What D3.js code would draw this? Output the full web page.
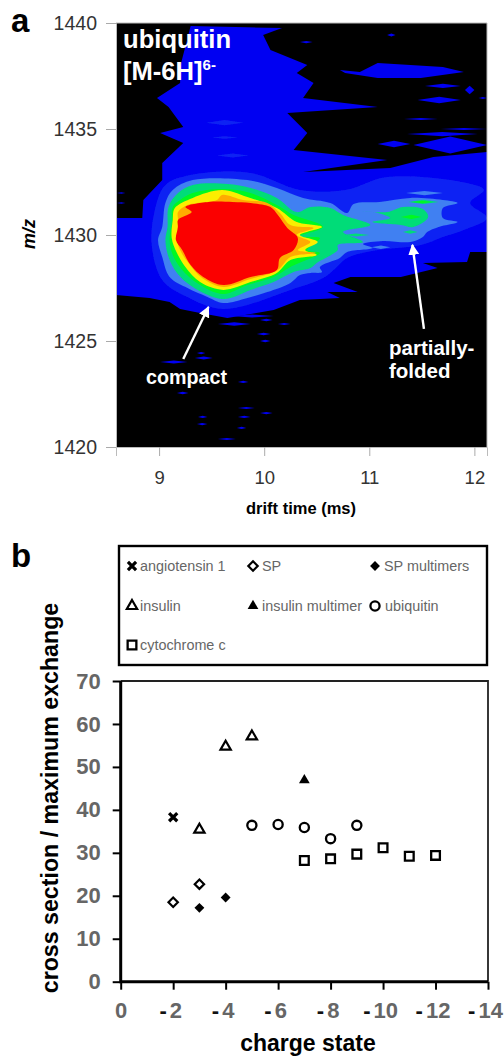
<!DOCTYPE html>
<html><head><meta charset="utf-8">
<script src="https://cdn.jsdelivr.net/npm/d3@7"></script>
<style>html,body{margin:0;padding:0;background:#fff}svg{display:block}text{font-family:"Liberation Sans",Arial,sans-serif}</style>
</head><body><svg id="c" width="504" height="1056"></svg>
<script>
// ---------- panel a: contour bands, [drift time (ms), m/z]
const mzTicks=[1440,1435,1430,1425,1420];
const driftTicks=[9,10,11,12];
const blueBand=[[9.30,1439.86],[10.17,1439.76],[9.99,1439.43],[10.06,1438.73],[10.41,1438.02],[10.31,1437.64],[10.47,1437.17],[10.37,1436.46],[11.08,1436.04],[10.22,1435.75],[10.41,1434.81],[10.28,1434.01],[11.17,1433.54],[10.37,1432.97],[11.20,1433.16],[11.61,1433.68],[12.12,1433.92],[12.12,1429.20],[11.96,1429.20],[11.93,1428.73],[11.51,1428.68],[11.65,1428.44],[11.30,1428.02],[10.82,1428.02],[10.66,1427.74],[10.89,1427.31],[10.60,1427.31],[10.72,1427.03],[10.34,1426.93],[10.09,1426.46],[9.65,1426.08],[9.39,1426.32],[9.20,1426.51],[9.10,1426.84],[8.91,1427.03],[8.59,1427.17],[8.59,1430.80],[8.84,1430.80],[8.85,1431.65],[9.03,1432.59],[9.03,1433.40],[9.23,1434.34],[9.01,1434.81],[9.23,1435.09],[9.09,1436.04],[8.98,1436.46],[9.20,1437.17],[9.20,1437.92]];
const blueIsland=[[10.72,1437.78],[10.91,1437.69],[11.08,1438.11],[11.70,1437.92],[11.90,1437.69],[11.49,1437.41],[11.08,1437.41],[10.77,1437.64]];
const midBand=[[11.17,1432.74],[11.93,1432.45],[12.09,1432.12],[11.96,1431.51],[12.12,1430.80],[11.90,1430.24],[11.70,1429.91],[11.49,1429.53],[11.08,1429.29],[10.79,1428.92],[10.66,1428.35],[10.56,1427.97],[10.25,1427.41],[9.61,1426.51],[9.25,1427.12],[9.03,1427.88],[8.93,1429.53],[8.96,1431.18],[9.06,1432.36],[9.30,1432.83],[9.87,1432.92],[10.34,1432.12],[10.77,1432.12]];
const skyBand=[[9.32,1432.59],[9.84,1432.59],[10.12,1432.22],[10.37,1431.75],[10.63,1431.51],[10.79,1431.04],[10.85,1431.46],[11.10,1431.56],[11.39,1431.75],[11.70,1431.65],[11.84,1431.51],[11.70,1431.27],[11.70,1430.80],[11.84,1430.61],[11.66,1430.38],[11.55,1430.14],[11.51,1429.91],[11.39,1429.67],[11.13,1429.72],[10.94,1429.58],[11.03,1429.39],[10.79,1429.20],[10.72,1428.92],[10.53,1428.49],[10.55,1428.25],[10.44,1428.21],[10.34,1428.11],[10.25,1427.74],[10.03,1427.31],[9.84,1427.03],[9.61,1426.79],[9.46,1427.08],[9.27,1427.50],[9.10,1428.02],[9.03,1428.96],[8.99,1429.76],[9.03,1430.38],[9.06,1431.51],[9.13,1432.12]];
const tealBand=[[9.32,1432.36],[9.65,1432.41],[9.87,1432.22],[10.12,1431.75],[10.31,1431.08],[10.44,1431.32],[10.63,1431.27],[10.75,1430.94],[11.01,1430.47],[10.75,1430.14],[10.94,1429.67],[10.70,1429.53],[10.70,1429.29],[10.50,1428.68],[10.44,1428.44],[10.28,1428.25],[10.09,1427.78],[9.87,1427.41],[9.61,1426.98],[9.32,1427.55],[9.17,1428.21],[9.09,1428.96],[9.06,1429.76],[9.08,1430.38],[9.09,1431.32],[9.18,1431.98]];
const tealIsland=[[10.93,1431.13],[11.17,1431.08],[11.32,1431.32],[11.51,1431.23],[11.56,1430.85],[11.42,1430.38],[11.30,1430.47],[11.03,1430.61],[11.20,1430.80],[11.08,1431.04]];
const greenBand=[[9.32,1431.98],[9.61,1432.17],[9.87,1431.98],[10.12,1431.42],[10.28,1430.94],[10.56,1430.38],[10.31,1429.91],[10.53,1429.86],[10.41,1429.29],[10.53,1429.15],[10.25,1428.49],[10.09,1428.02],[9.84,1427.64],[9.61,1427.22],[9.36,1427.74],[9.22,1428.35],[9.13,1429.06],[9.10,1429.76],[9.12,1430.57],[9.13,1431.32],[9.20,1431.65]];
const yellowBand=[[9.15,1431.27],[9.32,1431.75],[9.60,1432.12],[9.84,1431.79],[10.12,1431.27],[10.31,1430.61],[10.55,1430.38],[10.34,1430.00],[10.51,1429.67],[10.39,1429.29],[10.50,1429.06],[10.25,1428.82],[10.12,1428.21],[9.87,1427.78],[9.61,1427.41],[9.39,1427.78],[9.25,1428.49],[9.17,1429.15],[9.12,1429.86],[9.13,1430.71]];
const orangeBand=[[9.18,1431.08],[9.27,1431.42],[9.36,1431.51],[9.55,1431.65],[9.60,1431.89],[9.80,1431.65],[10.03,1431.51],[10.15,1431.04],[10.25,1430.47],[10.47,1430.33],[10.31,1430.00],[10.44,1429.67],[10.32,1429.29],[10.49,1429.15],[10.25,1428.96],[10.13,1428.35],[9.87,1427.92],[9.61,1427.55],[9.41,1427.97],[9.28,1428.68],[9.20,1429.29],[9.17,1429.86],[9.18,1430.71]];
const redBand=[[9.18,1430.71],[9.31,1431.08],[9.25,1431.32],[9.47,1431.56],[9.70,1431.56],[9.87,1431.51],[10.06,1431.32],[10.13,1430.94],[10.22,1430.33],[10.32,1429.86],[10.28,1429.29],[10.15,1428.92],[10.12,1428.35],[9.87,1428.02],[9.61,1427.64],[9.42,1428.02],[9.30,1428.58],[9.22,1429.29],[9.16,1429.76],[9.18,1430.38]];
// streaks: [start time, end time, m/z, half width in m/z]
const blueStreaks=[[11.53,11.87,1437.03,.1],[11.91,12.0,1436.84,.2],[11.46,11.87,1436.37,.15],[12.04,12.12,1436.46,.05],[11.33,11.65,1435.47,.05],[11.68,12.12,1435.0,.05],[11.36,12.03,1434.76,.1],[11.08,11.39,1434.29,.15],[11.42,12.12,1434.25,.4],[9.01,9.27,1424.01,.07],[9.34,9.51,1424.2,.07],[9.36,9.44,1424.43,.05],[9.56,9.87,1425.8,.08],[9.96,10.08,1425.99,.06],[9.68,10.09,1426.18,.07],[9.93,10.06,1425.33,.06],[9.96,10.06,1425.0,.06],[10.13,10.25,1425.8,.05],[9.75,9.85,1423.07,.05],[9.17,9.28,1422.55,.06],[9.75,9.91,1421.84,.05],[9.96,10.08,1421.6,.05],[9.37,9.46,1421.42,.05],[9.75,9.87,1421.42,.05],[9.36,9.46,1421.08,.05],[9.74,9.83,1420.9,.05],[9.56,9.73,1420.38,.05],[8.60,8.68,1431.98,.04],[8.60,8.68,1431.51,.04],[10.34,10.46,1439.1,.05],[11.17,11.25,1439.43,.07],[8.75,8.87,1427.45,.12]];
const midStreaks=[[9.45,9.8,1435.3,.12],[9.5,9.75,1434.6,.06],[9.55,9.85,1433.75,.1]];
const skyStreaks=[[11.35,11.70,1431.98,.1],[11.02,11.2,1429.42,.08]];
const tealStreaks=[[11.37,11.66,1431.56,.1],[11.32,11.46,1430.14,.08],[10.75,11.0,1430.0,.07]];
const greenStreaks=[[11.4,11.6,1431.56,.06],[11.3,11.5,1430.85,.1]];
const bandColors={blue:"#0202f2",mid:"#0f22f3",sky:"#3f80f2",teal:"#00dc78",green:"#00f820",yellow:"#fbee00",orange:"#ffab00",red:"#fb0000"};
const arrows=[[[9.23,1424.15],[9.47,1426.6]],[[11.52,1425.57],[11.41,1429.53]]];

// ---------- panel b
const chargeTicks=[0,-2,-4,-6,-8,-10,-12,-14];
const ratioTicks=[0,10,20,30,40,50,60,70];
const angiotensinCharge=[-2],angiotensinValue=[38.3];
const spCharge=[-2,-3],spValue=[18.5,22.7];
const spMultCharge=[-3,-4],spMultValue=[17.2,19.6];
const insulinCharge=[-3,-4,-5],insulinValue=[35.4,54.7,57.1];
const insMultCharge=[-7],insMultValue=[46.9];
const ubiquitinCharge=[-5,-6,-7,-8,-9],ubiquitinValue=[36.4,36.6,35.9,33.3,36.4];
const cytoCharge=[-7,-8,-9,-10,-11,-12],cytoValue=[28.2,28.6,29.7,31.2,29.2,29.4];
const seriesNames=["angiotensin 1","SP","SP multimers","insulin","insulin multimer","ubiquitin","cytochrome c"];

const svg=d3.select("#c");
const xA=d3.scaleLinear().domain([8.59,12.12]).range([116,487]);
const yA=d3.scaleLinear().domain([1420,1440]).range([447,23]);
const path=d3.line().x(d=>xA(d[0])).y(d=>yA(d[1])).curve(d3.curveLinearClosed);
const smooth=d3.line().x(d=>xA(d[0])).y(d=>yA(d[1])).curve(d3.curveCatmullRomClosed.alpha(0.5));
const defs=svg.append("defs");
defs.append("filter").attr("id","soft").append("feGaussianBlur").attr("stdDeviation",0.55);
defs.append("clipPath").attr("id","heatClip").append("rect").attr("x",116).attr("y",23).attr("width",371).attr("height",424);
defs.append("marker").attr("id","ah").attr("viewBox","0 0 10 10").attr("refX",9).attr("refY",5).attr("markerUnits","userSpaceOnUse").attr("markerWidth",11).attr("markerHeight",11).attr("orient","auto").append("path").attr("d","M0,0L10,5L0,10Z").attr("fill","#fff");

svg.append("rect").attr("x",xA(8.59)).attr("y",yA(1440)).attr("width",xA(12.12)-xA(8.59)).attr("height",yA(1420)-yA(1440)).attr("fill","#000");
const heat=svg.append("g").attr("clip-path","url(#heatClip)").append("g").attr("filter","url(#soft)");
const poly=(d,c)=>heat.append("path").attr("d",path(d)).attr("fill",c);
const round=(d,c)=>heat.append("path").attr("d",smooth(d)).attr("fill",c);
const streak=(list,c)=>list.forEach(s=>poly([[s[0],s[2]],[(s[0]+s[1])/2,s[2]+s[3]],[s[1],s[2]],[(s[0]+s[1])/2,s[2]-s[3]]],c));
poly(blueBand,bandColors.blue);poly(blueIsland,bandColors.blue);streak(blueStreaks,bandColors.blue);
round(midBand,bandColors.mid);streak(midStreaks,bandColors.mid);
round(skyBand,bandColors.sky);streak(skyStreaks,bandColors.sky);
round(tealBand,bandColors.teal);round(tealIsland,bandColors.teal);streak(tealStreaks,bandColors.teal);
streak(greenStreaks,bandColors.green);
round(greenBand,bandColors.green);round(yellowBand,bandColors.yellow);round(orangeBand,bandColors.orange);round(redBand,bandColors.red);

const axA=svg.append("g").attr("transform","translate(116,0)").call(d3.axisLeft(yA).tickValues(mzTicks).tickSize(10).tickPadding(9).tickFormat(d3.format("d")));
axA.select(".domain").attr("stroke","#bbb");
axA.selectAll(".tick line").attr("stroke","#aaa");
axA.selectAll("text").attr("font-size",19.5).attr("fill","#333").attr("font-family","Liberation Sans");
const axB=svg.append("g").attr("transform","translate(0,447)").call(d3.axisBottom(xA).tickValues(driftTicks).tickSize(9).tickPadding(15).tickFormat(d3.format("d")));
axB.select(".domain").attr("stroke","#bbb");
axB.selectAll(".tick line").attr("stroke","#aaa");
axB.selectAll("text").attr("font-size",18.5).attr("fill","#333").attr("font-family","Liberation Sans");
svg.append("path").attr("d",`M487,23V447M116,23H487`).attr("stroke","#bbb").attr("fill","none");

svg.append("text").attr("x",11).attr("y",32).attr("font-size",33).attr("font-weight","bold").text("a");
svg.append("text").attr("x",11).attr("y",567).attr("font-size",33).attr("font-weight","bold").text("b");
svg.append("text").attr("transform","translate(35,234) rotate(-90)").attr("text-anchor","middle").attr("font-size",18).attr("font-weight","bold").attr("font-style","italic").text("m/z");
svg.append("text").attr("x",301).attr("y",514).attr("text-anchor","middle").attr("font-size",16.5).attr("font-weight","bold").text("drift time (ms)");

const white=(x,y,t,fs)=>svg.append("text").attr("x",x).attr("y",y).attr("fill","#fff").attr("font-size",fs).attr("font-weight","bold").text(t);
white(123,48,"ubiquitin",25.6);
const mh=white(123,80,"[M-6H]",25.6);
mh.append("tspan").attr("font-size",15).attr("dy",-10).text("6-");
white(146,384,"compact",19.7);
white(389,355,"partially-",20.5);
white(389,378,"folded",20.5);
arrows.forEach(a=>svg.append("line").attr("x1",xA(a[0][0])).attr("y1",yA(a[0][1])).attr("x2",xA(a[1][0])).attr("y2",yA(a[1][1])).attr("stroke","#fff").attr("stroke-width",2.4).attr("marker-end","url(#ah)"));

// panel b
const xB=d3.scaleLinear().domain([0,-14]).range([120.7,488]);
const yB=d3.scaleLinear().domain([0,70]).range([981.7,681]);
svg.append("rect").attr("x",119).attr("y",546).attr("width",368).attr("height",119).attr("fill","none").attr("stroke","#000").attr("stroke-width",2.4);
const axX=svg.append("g").attr("transform","translate(0,981.7)").call(d3.axisBottom(xB).tickValues(chargeTicks).tickSize(8).tickPadding(11).tickFormat(d=>""));
const axY=svg.append("g").attr("transform","translate(120.7,0)").call(d3.axisLeft(yB).tickValues(ratioTicks).tickSize(8).tickPadding(12));
[axX,axY].forEach(a=>{a.select(".domain").remove();a.selectAll(".tick line").attr("stroke","#000").attr("stroke-width",2);});
axY.selectAll("text").attr("font-size",22).attr("font-weight","bold").attr("fill","#666").attr("font-family","Liberation Sans");
axX.selectAll(".tick").each(function(d){
  const t=d3.select(this).append("text").attr("y",36).attr("text-anchor","middle").attr("font-size",22).attr("font-weight","bold").attr("font-family","Liberation Sans").attr("fill","#666");
  if(d!==0){t.attr("x",-3);t.append("tspan").attr("fill","#111").attr("dx",0).text("-");t.append("tspan").attr("dx",3).text(String(-d));}
  else t.text("0");
});
svg.append("path").attr("d",`M${xB(0)},${yB(70)}H${xB(-14)}V${yB(0)}`).attr("fill","none").attr("stroke","#222").attr("stroke-width",1.8);
svg.append("path").attr("d",`M${xB(0)},${yB(70)}V${yB(0)}H${xB(-14)}`).attr("fill","none").attr("stroke","#000").attr("stroke-width",3);

svg.append("text").attr("x",308).attr("y",1051).attr("text-anchor","middle").attr("font-size",23).attr("font-weight","bold").text("charge state");
svg.append("text").attr("transform","translate(58,798) rotate(-90)").attr("text-anchor","middle").attr("font-size",23.2).attr("font-weight","bold").text("cross section / maximum exchange");

const sym=(type,size)=>d3.symbol().type(type).size(size)();
const styles=[
 {d:sym(d3.symbolX,45),fill:"none",sw:3.2},
 {d:sym(d3.symbolDiamond2,56),fill:"#fff",sw:2.2},
 {d:sym(d3.symbolDiamond2,62),fill:"#000",sw:0},
 {d:sym(d3.symbolTriangle,46),fill:"#fff",sw:2.2},
 {d:sym(d3.symbolTriangle,50),fill:"#000",sw:0},
 {d:sym(d3.symbolCircle,66),fill:"#fff",sw:2.3},
 {d:sym(d3.symbolSquare,76),fill:"#fff",sw:2.3}
];
const seriesCharge=[angiotensinCharge,spCharge,spMultCharge,insulinCharge,insMultCharge,ubiquitinCharge,cytoCharge];
const seriesValue=[angiotensinValue,spValue,spMultValue,insulinValue,insMultValue,ubiquitinValue,cytoValue];
seriesCharge.forEach((cs,i)=>{
  svg.append("g").selectAll("path").data(cs).join("path")
   .attr("transform",(c,j)=>`translate(${xB(c)},${yB(seriesValue[i][j])})`)
   .attr("d",styles[i].d).attr("fill",styles[i].fill).attr("stroke","#000").attr("stroke-width",styles[i].sw);
});
const legX=[132,253,375,132,253,375,132],legY=[566,566,566,606,606,606,645],txtX=[140,262,384,140,262,385,140];
seriesNames.forEach((n,i)=>{
  svg.append("path").attr("transform",`translate(${legX[i]},${legY[i]})`).attr("d",styles[i].d).attr("fill",styles[i].fill).attr("stroke","#000").attr("stroke-width",styles[i].sw);
  svg.append("text").attr("x",txtX[i]).attr("y",legY[i]+5).attr("font-size",14.4).attr("fill","#666").text(n);
});
</script></body></html>
